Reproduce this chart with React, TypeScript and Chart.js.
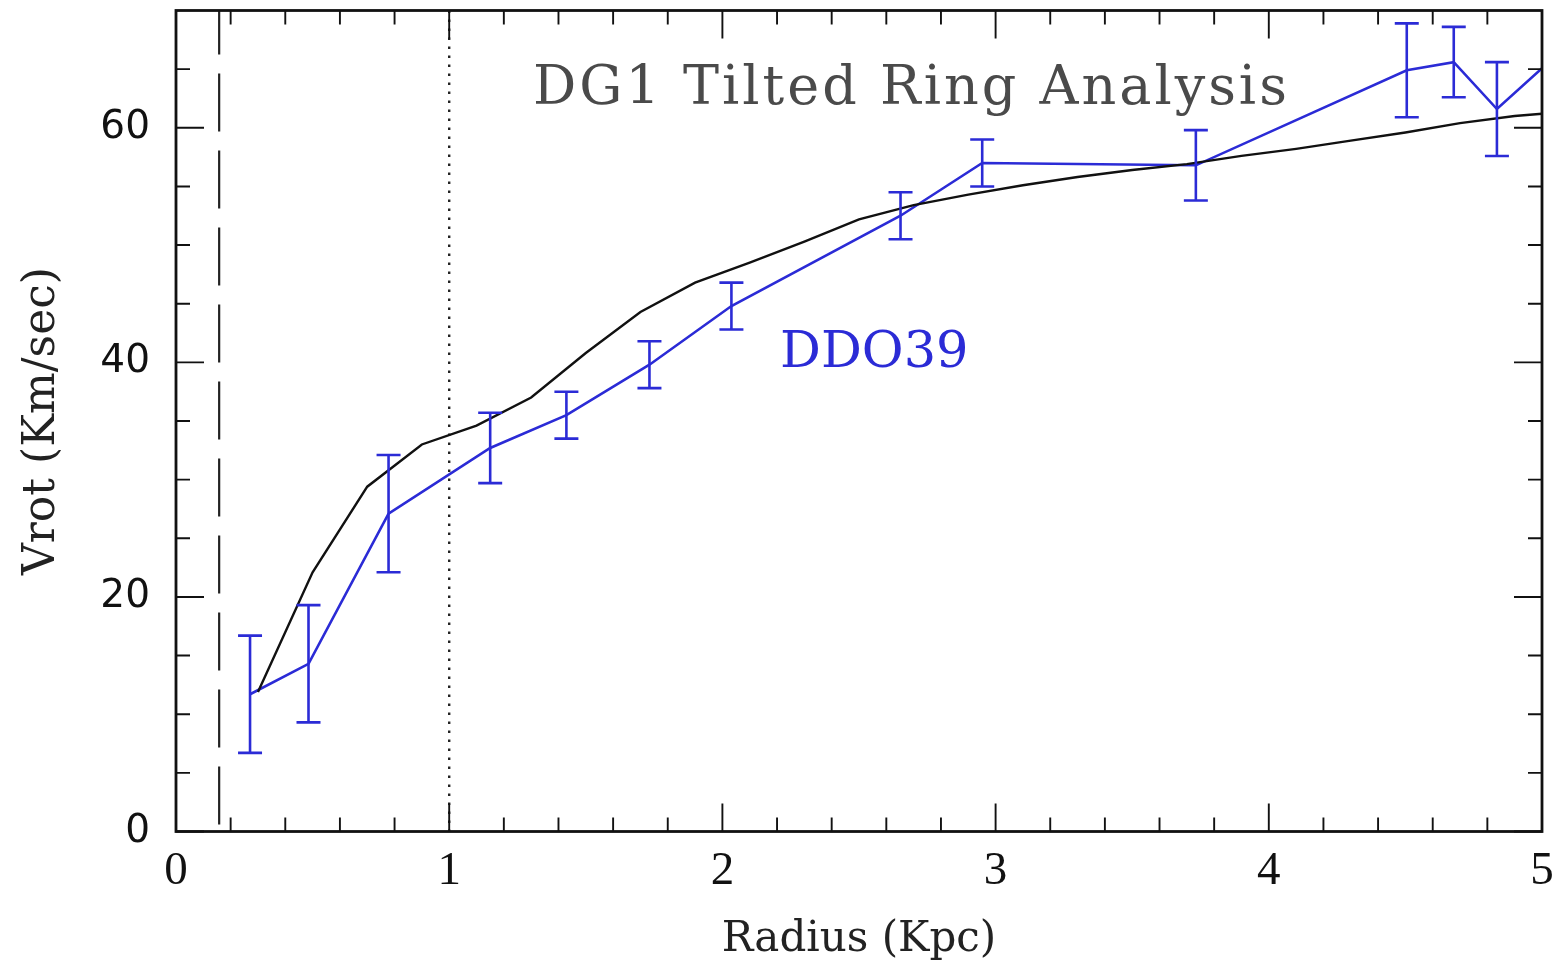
import React, { useEffect, useRef } from "react";
import { Chart, registerables } from "chart.js";

Chart.register(...registerables);

// Observed rotation curve of DDO39 (tilted-ring fit)
const radius = [0.271, 0.485, 0.778, 1.15, 1.429, 1.733, 2.033, 2.652, 2.951, 3.733, 4.505, 4.677, 4.835, 5.12];
const vrot = [11.7, 14.3, 27.1, 32.7, 35.5, 39.8, 44.8, 52.5, 57.0, 56.8, 64.9, 65.6, 61.6, 67.6];
const vrotErr = [5, 5, 5, 3, 2, 2, 2, 2, 2, 3, 4, 3, 4, 4];

// DG1 model curve
const modelRadius = [0.3, 0.5, 0.7, 0.9, 1.1, 1.3, 1.5, 1.7, 1.9, 2.1, 2.3, 2.5, 2.7, 2.9, 3.1, 3.3, 3.5, 3.7, 3.9, 4.1, 4.3, 4.5, 4.7, 4.9, 5.1];
const modelVrot = [11.9, 22.1, 29.4, 33.0, 34.6, 37.0, 40.8, 44.3, 46.8, 48.5, 50.3, 52.2, 53.4, 54.3, 55.1, 55.8, 56.4, 56.9, 57.6, 58.2, 58.9, 59.6, 60.4, 61.0, 61.4];

// Axis ticks
const xMajorTicks = [0, 1, 2, 3, 4, 5];
const xMinorTicks = [0.2, 0.4, 0.6, 0.8, 1.2, 1.4, 1.6, 1.8, 2.2, 2.4, 2.6, 2.8, 3.2, 3.4, 3.6, 3.8, 4.2, 4.4, 4.6, 4.8];
const yMajorTicks = [0, 20, 40, 60];
const yMinorTicks = [5, 10, 15, 25, 30, 35, 45, 50, 55, 65];

// Reference radii
const innerLimitRadius = 0.158; // dashed line
const beamRadius = 1.0; // dotted line

// Text annotations (data coordinates: left edge, baseline)
const plotTitle = "DG1 Tilted Ring Analysis";
const plotTitleAt = [1.307, 62.0];
const galaxyName = "DDO39";
const galaxyNameAt = [2.211, 39.6];

const BLUE = "#2b2bd6";

const referenceLines = {
  id: "referenceLines",
  beforeDatasetsDraw(chart: any) {
    const { ctx, chartArea: a, scales } = chart;
    const xs = scales.x;
    ctx.save();
    ctx.strokeStyle = "#222";
    ctx.lineWidth = 2.2;
    ctx.setLineDash([58, 19]);
    ctx.lineDashOffset = 14;
    let px = xs.getPixelForValue(innerLimitRadius);
    ctx.beginPath();
    ctx.moveTo(px, a.top);
    ctx.lineTo(px, a.bottom);
    ctx.stroke();

    ctx.strokeStyle = "#222";
    ctx.lineWidth = 2.4;
    ctx.setLineDash([2.4, 6.6]);
    ctx.lineDashOffset = 0;
    px = xs.getPixelForValue(beamRadius);
    ctx.beginPath();
    ctx.moveTo(px, a.top);
    ctx.lineTo(px, a.bottom);
    ctx.stroke();
    ctx.restore();
  },
};

const errorBars = {
  id: "errorBars",
  afterDatasetsDraw(chart: any) {
    const { ctx, chartArea: a, scales } = chart;
    const xs = scales.x;
    const ys = scales.y;
    ctx.save();
    ctx.beginPath();
    ctx.rect(a.left, a.top, a.right - a.left, a.bottom - a.top);
    ctx.clip();
    ctx.strokeStyle = BLUE;
    ctx.lineWidth = 2.6;
    const cap = 12;
    radius.forEach((r, i) => {
      const px = xs.getPixelForValue(r);
      const yt = ys.getPixelForValue(vrot[i] + vrotErr[i]);
      const yb = ys.getPixelForValue(vrot[i] - vrotErr[i]);
      ctx.beginPath();
      ctx.moveTo(px, yt);
      ctx.lineTo(px, yb);
      ctx.moveTo(px - cap, yt);
      ctx.lineTo(px + cap, yt);
      ctx.moveTo(px - cap, yb);
      ctx.lineTo(px + cap, yb);
      ctx.stroke();
    });
    ctx.restore();
  },
};

const frameAndTicks = {
  id: "frameAndTicks",
  afterDraw(chart: any) {
    const { ctx, chartArea: a, scales } = chart;
    const xs = scales.x;
    const ys = scales.y;
    ctx.save();
    ctx.strokeStyle = "#111";
    ctx.lineWidth = 1.9;
    const major = 28;
    const minor = 14;
    const xTick = (v: number, len: number) => {
      const px = xs.getPixelForValue(v);
      ctx.beginPath();
      ctx.moveTo(px, a.bottom);
      ctx.lineTo(px, a.bottom - len);
      ctx.moveTo(px, a.top);
      ctx.lineTo(px, a.top + len);
      ctx.stroke();
    };
    const yTick = (v: number, len: number) => {
      const py = ys.getPixelForValue(v);
      ctx.beginPath();
      ctx.moveTo(a.left, py);
      ctx.lineTo(a.left + len, py);
      ctx.moveTo(a.right, py);
      ctx.lineTo(a.right - len, py);
      ctx.stroke();
    };
    xMajorTicks.forEach((v) => xTick(v, major));
    xMinorTicks.forEach((v) => xTick(v, minor));
    yMajorTicks.forEach((v) => yTick(v, major));
    yMinorTicks.forEach((v) => yTick(v, minor));
    ctx.lineWidth = 2.8;
    ctx.strokeRect(a.left, a.top, a.right - a.left, a.bottom - a.top);
    ctx.restore();
  },
};

const annotations = {
  id: "annotations",
  afterDatasetsDraw(chart: any) {
    const { ctx, scales } = chart;
    const xs = scales.x;
    const ys = scales.y;
    ctx.save();
    ctx.textBaseline = "alphabetic";
    ctx.textAlign = "left";
    ctx.font = '54px "DejaVu Serif"';
    ctx.fillStyle = "#4a4a4a";
    (ctx as any).letterSpacing = "3px";
    ctx.fillText(plotTitle, xs.getPixelForValue(plotTitleAt[0]), ys.getPixelForValue(plotTitleAt[1]));
    (ctx as any).letterSpacing = "0px";
    ctx.font = '51px "DejaVu Serif"';
    ctx.fillStyle = BLUE;
    ctx.fillText(galaxyName, xs.getPixelForValue(galaxyNameAt[0]), ys.getPixelForValue(galaxyNameAt[1]));
    ctx.restore();
  },
};

const clearScalePadding = (s: any) => {
  s.paddingTop = 0;
  s.paddingBottom = 0;
  s.paddingLeft = 0;
  s.paddingRight = 0;
};

export default function App() {
  const canvasRef = useRef<HTMLCanvasElement | null>(null);

  useEffect(() => {
    document.body.style.margin = "0";
    const canvas = canvasRef.current;
    if (!canvas) return;
    const chart = new Chart(canvas, {
      type: "scatter",
      data: {
        datasets: [
          {
            label: "DG1 model",
            data: modelRadius.map((r, i) => ({ x: r, y: modelVrot[i] })),
            showLine: true,
            borderColor: "#111",
            borderWidth: 2.4,
            pointRadius: 0,
            tension: 0,
            clip: 0,
          },
          {
            label: "DDO39",
            data: radius.map((r, i) => ({ x: r, y: vrot[i] })),
            showLine: true,
            borderColor: BLUE,
            borderWidth: 2.6,
            pointRadius: 0,
            tension: 0,
            clip: 0,
          },
        ],
      },
      options: {
        animation: false,
        responsive: false,
        devicePixelRatio: 1,
        layout: { padding: { top: 10.5, right: 18, left: 0, bottom: 0 } },
        plugins: { legend: { display: false }, tooltip: { enabled: false } },
        scales: {
          x: {
            type: "linear",
            min: 0,
            max: 5,
            afterBuildTicks: (s: any) => {
              s.ticks = xMajorTicks.map((v) => ({ value: v }));
            },
            afterFit: (s: any) => {
              s.height = 134.5;
              clearScalePadding(s);
            },
            grid: { display: false, drawTicks: false },
            border: { display: false },
            ticks: {
              autoSkip: false,
              maxRotation: 0,
              padding: 12,
              color: "#111",
              font: { family: "Liberation Serif", size: 47 },
              callback: (v: any) => String(v),
            },
            title: {
              display: true,
              text: "Radius (Kpc)",
              color: "#222",
              font: { family: "DejaVu Serif", size: 42 },
              padding: { top: 0, bottom: 1 },
            },
          },
          y: {
            type: "linear",
            min: 0,
            max: 70,
            afterBuildTicks: (s: any) => {
              s.ticks = yMajorTicks.map((v) => ({ value: v }));
            },
            afterFit: (s: any) => {
              s.width = 176;
              clearScalePadding(s);
            },
            grid: { display: false, drawTicks: false },
            border: { display: false },
            ticks: {
              autoSkip: false,
              padding: 26,
              color: "#111",
              font: { family: "DejaVu Sans", size: 39 },
              callback: (v: any) => String(v),
            },
            title: {
              display: true,
              text: "Vrot (Km/sec)",
              color: "#222",
              font: { family: "DejaVu Serif", size: 44 },
              padding: { top: 16, bottom: 0 },
            },
          },
        },
      },
      plugins: [referenceLines, errorBars, annotations, frameAndTicks],
    });
    return () => chart.destroy();
  }, []);

  return (
    <canvas
      ref={canvasRef}
      width={1560}
      height={966}
      style={{ display: "block", width: 1560, height: 966 }}
    />
  );
}
